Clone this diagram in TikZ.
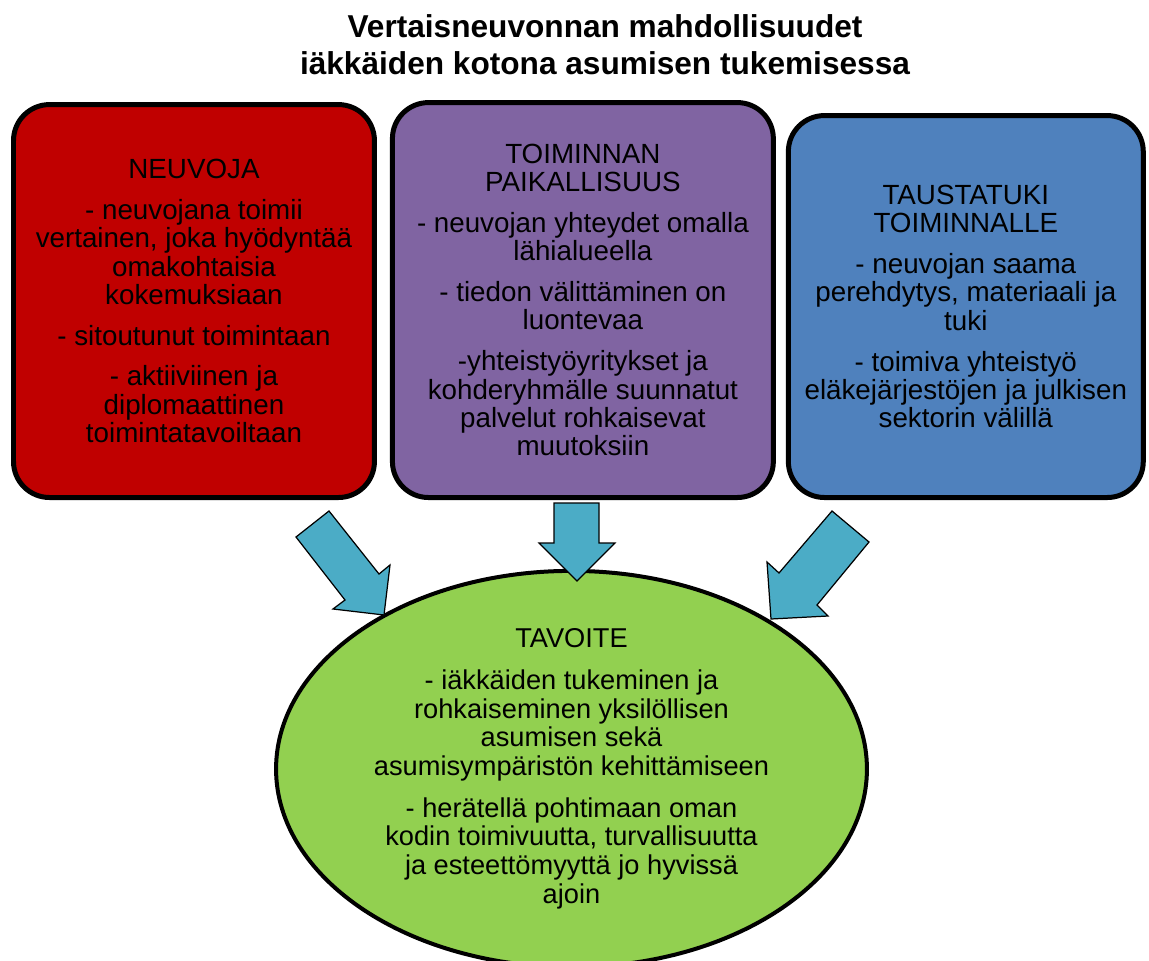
\documentclass[tikz,border=0pt]{standalone}
\usepackage{fontspec}
\setmainfont{Liberation Sans}
\usetikzlibrary{positioning,shapes.geometric}
\definecolor{punainen}{HTML}{C00000}
\definecolor{violetti}{HTML}{8064A2}
\definecolor{sininen}{HTML}{4F81BD}
\definecolor{vihrea}{HTML}{92D050}
\definecolor{turkoosi}{HTML}{4BACC6}
\tikzset{
	%Define style for boxes
	laatikko/.style={
		rectangle,
		rounded corners=0.72cm,
		draw=black, line width=0.1cm,
		inner sep=0pt,
		align=center,
		font=\fontsize{15.8}{16.1}\selectfont},
	%Define style for the goal
	tavoitepallo/.style={
		ellipse,
		draw=black, line width=0.08cm,
		fill=vihrea,
		inner sep=0pt,
		minimum width=11.82cm,
		minimum height=7.42cm,
		align=center,
		font=\fontsize{15.5}{16.4}\selectfont},
	%Define style for the title
	otsikko/.style={align=center, font=\bfseries\fontsize{18}{21}\selectfont},
	% Define arrow style
	nuoli/.style={
		fill=turkoosi,
		draw=black,
		line width=0.7pt,
		line join=miter}
}
\begin{document}
\begin{tikzpicture}[x=0.02cm,y=-0.02cm]
		\useasboundingbox (0,0) rectangle (1149,960);
		% node title
		\node[otsikko] (title) at (605,45) {Vertaisneuvonnan mahdollisuudet\\iäkkäiden kotona asumisen tukemisessa};
		% node Neuvoja
		\node[laatikko, fill=punainen, minimum width=7.22cm, minimum height=7.86cm, anchor=south west] (neuvoja) at (11,500)
			{NEUVOJA\\[0.25cm]
			- neuvojana toimii\\vertainen, joka hyödyntää\\omakohtaisia\\kokemuksiaan\\[0.25cm]
			- sitoutunut toimintaan\\[0.25cm]
			- aktiiviinen ja\\diplomaattinen\\toimintatavoiltaan};
		% node Paikallisuus
		\node[laatikko, fill=violetti, minimum width=7.62cm, minimum height=7.9cm, right=0.26cm of neuvoja.south east, anchor=south west] (paikallisuus)
			{TOIMINNAN\\PAIKALLISUUS\\[0.25cm]
			- neuvojan yhteydet omalla\\lähialueella\\[0.25cm]
			- tiedon välittäminen on\\luontevaa\\[0.25cm]
			-yhteistyöyritykset ja\\kohderyhmälle suunnatut\\palvelut rohkaisevat\\muutoksiin};
		% node Taustatuki
		\node[laatikko, fill=sininen, minimum width=7.1cm, minimum height=7.64cm, right=0.2cm of paikallisuus.south east, anchor=south west] (taustatuki)
			{TAUSTATUKI\\TOIMINNALLE\\[0.25cm]
			- neuvojan saama\\perehdytys, materiaali ja\\tuki\\[0.25cm]
			- toimiva yhteistyö\\eläkejärjestöjen ja julkisen\\sektorin välillä};
		% node Tavoite
		\node[tavoitepallo] (tavoite) at (571.5,769)
			{TAVOITE\\[0.25cm]
			- iäkkäiden tukeminen ja\\rohkaiseminen yksilöllisen\\asumisen sekä\\asumisympäristön kehittämiseen\\[0.25cm]
			- herätellä pohtimaan oman\\kodin toimivuutta, turvallisuutta\\ja esteettömyyttä jo hyvissä\\ajoin};
		% block arrows
		\draw[nuoli] (329,511) -- (296,537) -- (345,600) -- (333,609) -- (384,615) -- (390,565) -- (379,574) -- cycle;
		\draw[nuoli] (554,503) -- (599,503) -- (599,543) -- (615,543) -- (577,581) -- (539,543) -- (554,543) -- cycle;
		\draw[nuoli] (832,511) -- (869,542) -- (817,605) -- (828,616) -- (771,619) -- (767,562) -- (779,573) -- cycle;
	\end{tikzpicture}
\end{document}
